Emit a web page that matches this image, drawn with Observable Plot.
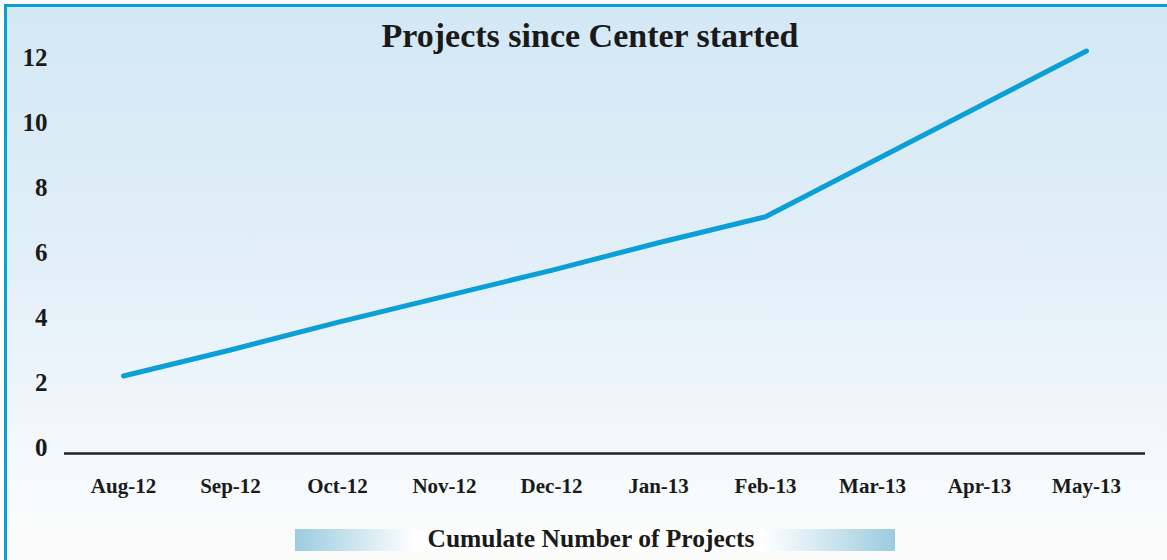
<!DOCTYPE html>
<html><head><meta charset="utf-8">
<script src="https://cdn.jsdelivr.net/npm/d3@7"></script>
<script src="https://cdn.jsdelivr.net/npm/@observablehq/plot@0.6"></script>
<style>
html,body{margin:0;padding:0;background:#fff;}
#wrap{position:relative;width:1167px;height:560px;overflow:hidden;font-family:"Liberation Serif","Times New Roman",serif;}
#bg{position:absolute;left:4px;top:4px;right:-10px;bottom:-10px;border-top:3px solid #0aa0d6;border-left:3px solid #0aa0d6;background:linear-gradient(to bottom,#d3e8f5 0%,#e2eff8 45%,#f6fafd 85%,#fdfdfa 100%);}
#title{position:absolute;left:0;width:1180px;top:19px;text-align:center;font-weight:bold;font-size:34px;line-height:1;color:#1a1a1a;}
#legend{position:absolute;left:295px;top:529px;width:600px;height:22px;background:linear-gradient(to right,#9ccbe0 0%,#ffffff 20%,#ffffff 78%,#9ccbe0 100%);}
#legend span{position:absolute;left:0;width:592px;top:-3px;text-align:center;font-weight:bold;font-size:25.5px;line-height:25px;color:#1a1a1a;}
#chart{position:absolute;left:0;top:0;}
</style></head>
<body>
<div id="wrap">
  <div id="bg"></div>
  <div id="chart"></div>
  <div id="title">Projects since Center started</div>
  <div id="legend"><span>Cumulate Number of Projects</span></div>
</div>
<script>
const months = ["Aug-12","Sep-12","Oct-12","Nov-12","Dec-12","Jan-13","Feb-13","Mar-13","Apr-13","May-13"];
const projects = [2.2, 3.0, 3.85, 4.65, 5.45, 6.3, 7.1, 8.8, 10.5, 12.2];
const yTicks = [0, 2, 4, 6, 8, 10, 12];

const data = months.map((m, i) => ({month: m, value: projects[i]}));

const chart = Plot.plot({
  width: 1167,
  height: 560,
  marginLeft: 64,
  marginRight: 22,
  marginTop: 57,
  marginBottom: 113,
  style: {background: "transparent", fontFamily: "'Liberation Serif', serif", color: "#1a1a1a", overflow: "visible"},
  x: {type: "point", domain: months, padding: 0.54, label: null},
  y: {domain: [0, 12], label: null},
  marks: [
    Plot.ruleY([0], {dy: 6, stroke: "#222", strokeWidth: 2.5}),
    Plot.axisY({ticks: yTicks, tickSize: 0, tickPadding: 17, fontSize: 25, fontWeight: "bold", label: null}),
    Plot.axisX({tickSize: 0, tickPadding: 31, fontSize: 21, fontWeight: "bold", label: null}),
    Plot.line(data, {x: "month", y: "value", stroke: "#0b9fd8", strokeWidth: 5, strokeLinecap: "round"})
  ]
});
document.getElementById("chart").appendChild(chart);
</script>
</body></html>
